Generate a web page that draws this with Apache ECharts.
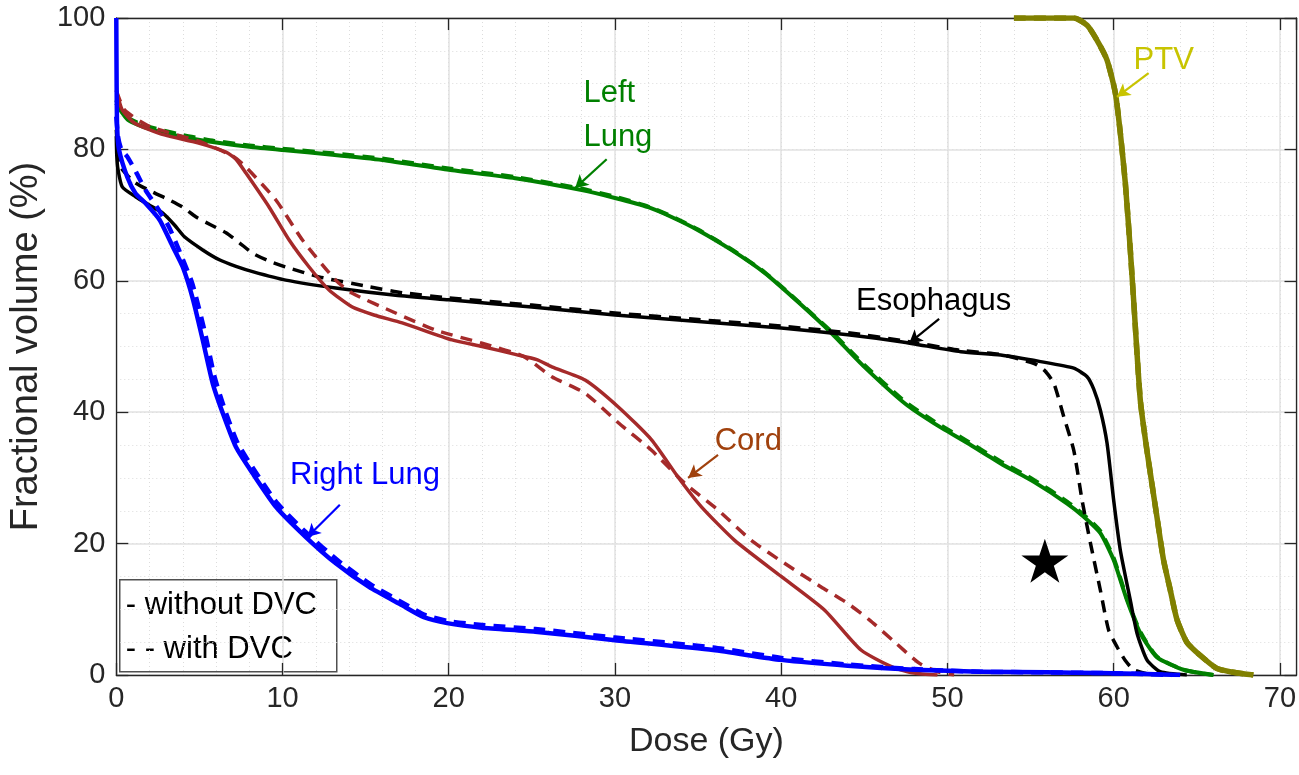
<!DOCTYPE html>
<html>
<head>
<meta charset="utf-8">
<script src="https://cdn.jsdelivr.net/npm/echarts@6/dist/echarts.min.js"></script>
<style>
html,body{margin:0;padding:0;background:#fff;}
#chart{width:1299px;height:775px;}
</style>
</head>
<body>
<div id="chart"></div>
<script>
// ---- data: [dose (Gy), fractional volume (%)] ----
const rightLungSolid = [[0,100],[0.02,90],[0.05,83.5],[0.16,80],[0.66,75.8],[1.16,73.3],[1.76,71.8],[2.6,69.3],[3.4,65.2],[4.0,62.1],[4.6,57.3],[5.2,51],[5.8,44.4],[6.4,39.9],[7.2,34.7],[8.2,30.7],[9.6,25.6],[11.4,21],[13.2,17],[15.2,13.4],[17.2,10.6],[18.5,8.8],[19.9,7.9],[22,7.2],[25.2,6.6],[30,5.3],[35.9,3.8],[40,2.3],[44,1.4],[48,0.8],[52,0.5],[56,0.4],[59.2,0.3],[62,0.15],[64,0]];
const rightLungDashed = [[0,85],[0.1,82],[0.3,80],[0.66,78.9],[1.2,76.5],[1.76,73.8],[2.5,71],[3.17,68.2],[3.8,64.5],[4.57,59.6],[5.3,52.5],[5.9,45.5],[6.5,40.6],[7.3,35.3],[8.3,31.2],[9.7,26.1],[11.5,21.5],[13.3,17.5],[15.3,13.8],[17.3,10.9],[18.6,9.1],[20,8.2],[22,7.6],[25.2,7.0],[30,5.7],[35.9,4.2],[40,2.6],[44,1.6],[48,0.9],[52,0.5],[56,0.4],[59.2,0.3],[62,0.15],[63.5,0]];
const esophagusSolid = [[0,82],[0.03,79],[0.1,77],[0.36,74.3],[1.16,72.8],[2.0,71.5],[2.8,70.3],[3.5,68.5],[4.1,66.7],[5.2,64.7],[6.2,63.2],[7.2,62.2],[8.2,61.4],[10.2,60.1],[13.2,58.9],[16.8,57.8],[20,57.1],[25,56],[30,54.8],[35,53.8],[40,52.8],[44,51.8],[47.3,50.7],[50.8,49.2],[53.2,48.7],[55.6,47.7],[57.6,46.7],[58.4,45.4],[58.8,43.5],[59.2,40.3],[59.6,35.3],[60,26.6],[60.4,19],[61,11.4],[61.4,6.4],[62,2.3],[62.8,0.5],[64.4,0]];
const esophagusDashed = [[0,83],[0.1,79],[0.25,77.3],[1.1,75],[2.2,73.5],[3.2,72.3],[4.0,71.2],[4.8,69.7],[5.7,68.5],[6.6,67.3],[7.4,65.8],[8.2,64.2],[9.2,63],[10.2,62.1],[12.2,60.6],[15.2,59.1],[17.2,58.2],[20,57.4],[25,56.3],[30,55.1],[35,54.1],[40,53.1],[44,52.1],[47.3,50.9],[50.8,49.4],[53.2,48.8],[55.0,47.6],[55.4,47.2],[55.9,46.2],[56.4,44.4],[57,39.3],[57.6,34.2],[58.1,26.6],[58.6,20.1],[59.2,12.9],[59.7,6.8],[60.2,4.3],[60.7,2.2],[61.2,0.8],[62,0.2],[62.5,0]];
const leftLungSolid = [[0,87],[0.1,86.5],[0.7,84.5],[1.9,83.2],[4,81.9],[5.9,81.1],[8,80.4],[10,79.9],[13,79.2],[16,78.4],[20,76.9],[24,75.6],[28,73.8],[30,72.6],[32,71.2],[33.5,69.6],[35,67.7],[37,64.7],[39,61.2],[41,56.8],[43,52.1],[45,46.9],[47.5,41.2],[49.2,38.3],[51.2,35.3],[53.2,32.2],[55.2,29.4],[57.2,26.1],[58.2,24.1],[59.2,21.6],[60,17.5],[60.8,11.4],[61.6,6.4],[62.6,2.7],[64.2,0.8],[66,0]];
const leftLungDashed = [[0,87.5],[0.1,86.8],[0.7,84.8],[1.9,83.5],[4,82.2],[5.9,81.3],[8,80.6],[10,80.1],[13,79.4],[16,78.6],[20,77.1],[24,75.8],[28,74.0],[30,72.8],[32,71.3],[33.5,69.7],[35,67.8],[37,64.8],[39,61.3],[41,56.9],[43,52.3],[45,47.2],[47.5,41.5],[49.2,38.6],[51.2,35.6],[53.2,32.5],[55.2,29.7],[57.2,26.4],[58.2,24.4],[59.2,21.9],[60,17.8],[60.8,11.6],[61.6,6.6],[62.6,2.8],[64.2,0.8],[66,0]];
const cordSolid = [[0,89],[0.1,88],[0.36,86],[1.1,84],[2.9,82.2],[4.9,81],[6.6,79.6],[7.2,78.5],[7.8,76.4],[9.2,71.2],[10.4,66.2],[11.6,62.1],[12.8,58.6],[14.2,56],[15.5,54.8],[17.2,53.6],[20.2,51],[22,50],[24,48.8],[25.3,48],[26.2,46.9],[28.2,44.9],[30.2,40.8],[32.2,35.8],[33.8,30.1],[35.2,25.6],[37.2,20.5],[40,15],[42.6,9.9],[44.8,3.8],[46.7,1.2],[48,0.3],[49.4,0]];
const cordDashed = [[0,89],[0.5,86],[2,83.5],[5,81.2],[7,79],[7.8,77.3],[9.6,72.3],[11.2,66.2],[13.2,60.1],[14.2,58.1],[16.8,55.1],[19.2,52.5],[22,50.5],[24.5,48.5],[26.2,45.4],[28.2,42.9],[30.2,38.4],[32.2,34.2],[34.2,29.2],[36.2,25.1],[38.2,20.5],[40.2,17.0],[42.4,13.4],[44,10.9],[45.3,8.4],[46.7,5.3],[48.3,1.8],[49.4,0.5],[50.4,0]];
const ptvSolid = [[54,100],[57.6,100],[58.4,98.9],[59,96.6],[59.6,93.6],[60.1,88.6],[60.4,82.5],[60.7,74.9],[61,64.7],[61.2,57.1],[61.6,41.9],[62,34.2],[62.6,24.1],[63.0,17.5],[63.4,13],[63.8,8.5],[64.4,5],[65.2,3.0],[66.2,1.0],[67,0.5],[68.4,0]];
const ptvDashed = [[54,100],[57.6,100],[58.4,98.9],[59,96.6],[59.6,93.6],[60.1,88.6],[60.4,82.5],[60.7,74.9],[61,64.7],[61.2,57.1],[61.6,41.9],[62,34.2],[62.6,24.1],[63.0,17.5],[63.4,13],[63.8,8.5],[64.4,5],[65.2,3.0],[66.2,1.0],[67,0.5],[68.4,0]];
const starPoint = [[55.86, 17.4]];

// ---- annotations ----
const labelTexts = ['Left\nLung', 'Esophagus', 'Cord', 'Right Lung', 'PTV'];
const labelPos = [[28.1, 85.1], [44.5, 56.8], [36.0, 35.5], [10.45, 30.4], [61.2, 93.5]];
const labelColors = ['#008000', '#000000', '#A0410D', '#0000FF', '#C8C400'];
const arrowFrom = [[29.5, 78.5], [49.5, 54.2], [36.2, 33.5], [13.45, 25.9], [62.1, 91.6]];
const arrowTo = [[27.6, 74.1], [47.7, 50.5], [34.4, 30.0], [11.5, 21.0], [60.2, 88.0]];
const arrowColors = ['#008000', '#000000', '#A0410D', '#0000FF', '#C8C400'];

const xTicks = [0, 10, 20, 30, 40, 50, 60, 70];
const yTicks = [0, 20, 40, 60, 80, 100];
const legendLines = ['- without DVC', '- - with DVC'];

const FONT = '"Liberation Sans", Arial, Helvetica, sans-serif';
const AX = '#262626';

function curve(name, data, color, width, dashed, z) {
  return {
    name: name, type: 'line', data: data, showSymbol: false, symbol: 'none',
    smooth: 0.2,
    xAxisIndex: 0, yAxisIndex: 0, z: z || 2,
    lineStyle: { color: color, width: width, type: dashed ? [12, 8] : 'solid', cap: 'butt', join: 'round', opacity: 1 },
    emphasis: { disabled: true }, silent: true
  };
}

const chart = echarts.init(document.getElementById('chart'), null, { renderer: 'canvas' });
const xMin = xTicks[0], xMax = 71, yMin = yTicks[0], yMax = yTicks[yTicks.length - 1];

const option = {
  animation: false,
  backgroundColor: '#ffffff',
  textStyle: { fontFamily: FONT },
  grid: { left: 114, right: 2, top: 18, bottom: 100, containLabel: false },
  xAxis: [
    {
      type: 'value', min: xMin, max: xMax, interval: 10, position: 'bottom',
      name: 'Dose (Gy)', nameLocation: 'middle', nameGap: 50,
      nameTextStyle: { fontSize: 34, color: AX, fontFamily: FONT },
      axisLine: { show: true, onZero: false, lineStyle: { color: AX, width: 1.3 } },
      axisTick: { show: true, inside: true, length: 12, lineStyle: { color: AX, width: 1.3 } },
      axisLabel: { fontSize: 29, color: AX, margin: 9, showMaxLabel: false, fontFamily: FONT,
        formatter: v => (xTicks.indexOf(v) >= 0 ? String(v) : '') },
      splitLine: { show: true, lineStyle: { color: '#e2e2e2', width: 1.5 } }
    },
    {
      type: 'value', min: xMin, max: xMax, interval: 10, position: 'top',
      axisLine: { show: true, onZero: false, lineStyle: { color: AX, width: 1.3 } },
      axisTick: { show: true, inside: true, length: 12, lineStyle: { color: AX, width: 1.3 } },
      axisLabel: { show: false }, splitLine: { show: false }
    },
    {
      type: 'value', min: xMin, max: xMax, interval: 2, position: 'bottom',
      axisLine: { show: false }, axisTick: { show: false }, axisLabel: { show: false },
      splitLine: { show: true, lineStyle: { color: '#dcdcdc', width: 1, type: [1, 3] } }
    }
  ],
  yAxis: [
    {
      type: 'value', min: yMin, max: yMax, interval: 20, position: 'left',
      name: 'Fractional volume (%)', nameLocation: 'middle', nameGap: 63,
      nameTextStyle: { fontSize: 38, color: AX, fontFamily: FONT },
      axisLine: { show: true, onZero: false, lineStyle: { color: AX, width: 1.3 } },
      axisTick: { show: true, inside: true, length: 12, lineStyle: { color: AX, width: 1.3 } },
      axisLabel: { fontSize: 29, color: AX, margin: 11, fontFamily: FONT },
      splitLine: { show: true, lineStyle: { color: '#e2e2e2', width: 1.5 } }
    },
    {
      type: 'value', min: yMin, max: yMax, interval: 20, position: 'right',
      axisLine: { show: true, onZero: false, lineStyle: { color: AX, width: 1.3 } },
      axisTick: { show: true, inside: true, length: 12, lineStyle: { color: AX, width: 1.3 } },
      axisLabel: { show: false }, splitLine: { show: false }
    },
    {
      type: 'value', min: yMin, max: yMax, interval: 5, position: 'left',
      axisLine: { show: false }, axisTick: { show: false }, axisLabel: { show: false },
      splitLine: { show: true, lineStyle: { color: '#dcdcdc', width: 1, type: [1, 3] } }
    }
  ],
  series: [
    curve('PTV', ptvSolid, '#808000', 5.5, false, 2),
    curve('PTV DVC', ptvDashed, '#808000', 5.5, true, 2),
    curve('Left Lung', leftLungSolid, '#008000', 4, false, 3),
    curve('Left Lung DVC', leftLungDashed, '#008000', 4, true, 3),
    curve('Esophagus', esophagusSolid, '#000000', 3.5, false, 4),
    curve('Esophagus DVC', esophagusDashed, '#000000', 3.5, true, 4),
    curve('Cord', cordSolid, '#A52A2A', 3.5, false, 5),
    curve('Cord DVC', cordDashed, '#A52A2A', 3.5, true, 5),
    curve('Right Lung', rightLungSolid, '#0000FF', 4.5, false, 6),
    curve('Right Lung DVC', rightLungDashed, '#0000FF', 4.5, true, 6),
    {
      name: 'star', type: 'scatter', data: starPoint, xAxisIndex: 0, yAxisIndex: 0, z: 8,
      symbol: 'path://M50,0 L61.2,34.5 L97.6,34.5 L68.2,55.9 L79.4,90.5 L50,69.1 L20.6,90.5 L31.8,55.9 L2.4,34.5 L38.8,34.5 Z',
      symbolSize: [47, 44], itemStyle: { color: '#000000', opacity: 1 }, silent: true
    },
    {
      name: 'labels', type: 'scatter', xAxisIndex: 0, yAxisIndex: 0, z: 9, symbolSize: 0, silent: true,
      itemStyle: { opacity: 1 },
      data: labelTexts.map((t, i) => ({
        value: labelPos[i],
        label: { show: true, formatter: t, position: 'inside', align: 'left', verticalAlign: 'middle',
          color: labelColors[i], fontSize: 31, lineHeight: 44, fontFamily: FONT, opacity: 1 }
      })),
      markLine: {
        silent: true, symbol: ['none', 'arrow'], symbolSize: [11, 13], precision: 4,
        label: { show: false }, emphasis: { disabled: true },
        data: arrowFrom.map((f, i) => [
          { coord: f, lineStyle: { color: arrowColors[i], width: 2.2, type: 'solid', opacity: 1 } },
          { coord: arrowTo[i] }
        ])
      }
    }
  ],
  graphic: [
    {
      type: 'group', left: 119, top: 579, z: 100,
      children: [
        { type: 'rect', shape: { x: 0, y: 0, width: 217, height: 92 },
          style: { fill: '#ffffff', stroke: '#505050', lineWidth: 1.5 } },
        { type: 'text', x: 6, y: 26, style: { text: legendLines[0], font: '31px ' + FONT, fill: '#000000', verticalAlign: 'middle' } },
        { type: 'text', x: 6, y: 70, style: { text: legendLines[1], font: '31px ' + FONT, fill: '#000000', verticalAlign: 'middle' } }
      ]
    }
  ]
};
chart.setOption(option);
</script>
</body>
</html>
